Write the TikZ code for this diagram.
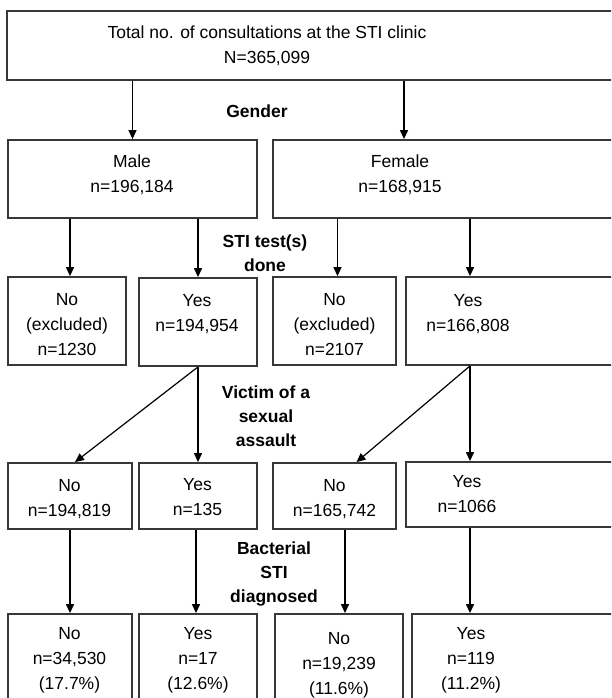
\documentclass[tikz,border=0pt]{standalone}
\usepackage{fontspec}
\setmainfont{Liberation Sans}
\usetikzlibrary{arrows.meta}
\definecolor{framegray}{HTML}{383838}

\begin{document}
\begin{tikzpicture}[x=1pt,y=-1pt,>={Triangle[length=9pt,width=8pt]},
  frame/.style={draw=framegray,line width=1.8pt,rectangle,inner sep=0pt},
  cell/.style={align=center,inner sep=0pt,font=\fontsize{17.5}{25}\selectfont},
  question/.style={cell,font=\fontsize{17.5}{24}\selectfont\bfseries}]

  \useasboundingbox (0,0) rectangle (611,698);
  \clip (0,0) rectangle (611,698);

  \node[frame,minimum width=633pt,minimum height=69pt] (total) at (323.5,45.5) {};
  \node[cell] (total-t) at (267,45.5) {Total no. of consultations at the STI clinic\\N=365,099};

  \node[frame,minimum width=249pt,minimum height=78pt] (male) at (132.5,179) {};
  \node[cell] (male-t) at (132,175) {Male\\n=196,184};
  \node[frame,minimum width=367pt,minimum height=78pt] (female) at (456.5,179) {};
  \node[cell] (female-t) at (400,175) {Female\\n=168,915};

  \node[frame,minimum width=118pt,minimum height=88pt] (nm2) at (67,321) {};
  \node[cell] (nm2-t) at (67,324.5) {No\\(excluded)\\n=1230};
  \node[frame,minimum width=118pt,minimum height=88pt] (ym2) at (198,322) {};
  \node[cell] (ym2-t) at (197,314) {Yes\\n=194,954};
  \node[frame,minimum width=123pt,minimum height=88pt] (nf2) at (334.5,321) {};
  \node[cell] (nf2-t) at (334.5,324.5) {No\\(excluded)\\n=2107};
  \node[frame,minimum width=234pt,minimum height=88pt] (yf2) at (523,321) {};
  \node[cell] (yf2-t) at (468,314) {Yes\\n=166,808};

  \node[frame,minimum width=124pt,minimum height=66pt] (nm3) at (70,496) {};
  \node[cell] (nm3-t) at (69.5,499) {No\\n=194,819};
  \node[frame,minimum width=118pt,minimum height=66pt] (ym3) at (198,496) {};
  \node[cell] (ym3-t) at (197.5,497.5) {Yes\\n=135};
  \node[frame,minimum width=123pt,minimum height=66pt] (nf3) at (334.5,496) {};
  \node[cell] (nf3-t) at (334.5,499) {No\\n=165,742};
  \node[frame,minimum width=234pt,minimum height=65pt] (yf3) at (523,494.5) {};
  \node[cell] (yf3-t) at (467,494) {Yes\\n=1066};

  \node[frame,minimum width=124pt,minimum height=106pt] (nm4) at (70,667) {};
  \node[cell] (nm4-t) at (69.5,660) {No\\n=34,530\\(17.7\%)};
  \node[frame,minimum width=118pt,minimum height=106pt] (ym4) at (198,667) {};
  \node[cell] (ym4-t) at (198,660) {Yes\\n=17\\(12.6\%)};
  \node[frame,minimum width=128pt,minimum height=106pt] (nf4) at (339,667) {};
  \node[cell] (nf4-t) at (339,665) {No\\n=19,239\\(11.6\%)};
  \node[frame,minimum width=228pt,minimum height=106pt] (yf4) at (526,667) {};
  \node[cell] (yf4-t) at (471,660) {Yes\\n=119\\(11.2\%)};

  \node[question] (gender) at (257,111) {Gender};
  \node[question] (tested) at (265,253) {STI test(s)\\done};
  \node[question] (assault) at (266,416) {Victim of a\\sexual\\assault};
  \node[question] (bacterial) at (274,574) {Bacterial\\STI\\diagnosed};

  \path[->,line width=1.2pt]
    (total.south -| male) edge (male.north)
    ([xshift=4pt]total.south -| female-t) edge ([xshift=4pt]female.north -| female-t)
    ([xshift=3pt]male.south -| nm2) edge ([xshift=3pt]nm2.north)
    (male.south -| ym2) edge (ym2.north)
    ([xshift=3pt]female.south -| nf2) edge ([xshift=3pt]nf2.north)
    ([xshift=2pt]female.south -| yf2-t) edge ([xshift=2pt]yf2.north -| yf2-t);

  \path[->,line width=1.2pt]
    (ym2.south) edge ([xshift=5pt]nm3.north)
    (ym2.south) edge (ym3.north)
    ([xshift=2pt]yf2.south -| yf2-t) edge ([xshift=22pt]nf3.north)
    ([xshift=2pt]yf2.south -| yf2-t) edge ([xshift=2pt]yf3.north -| yf2-t);

  \path[->,line width=1.2pt]
    (nm3.south) edge (nm3.south |- nm4.north)
    ([xshift=-2pt]ym3.south) edge ([xshift=-2pt]ym4.north)
    ([xshift=6pt]nf4.north |- nf3.south) edge ([xshift=6pt]nf4.north)
    ([xshift=2pt]yf3.south -| yf2-t) edge ([xshift=2pt]yf4.north -| yf2-t);

\end{tikzpicture}
\end{document}
